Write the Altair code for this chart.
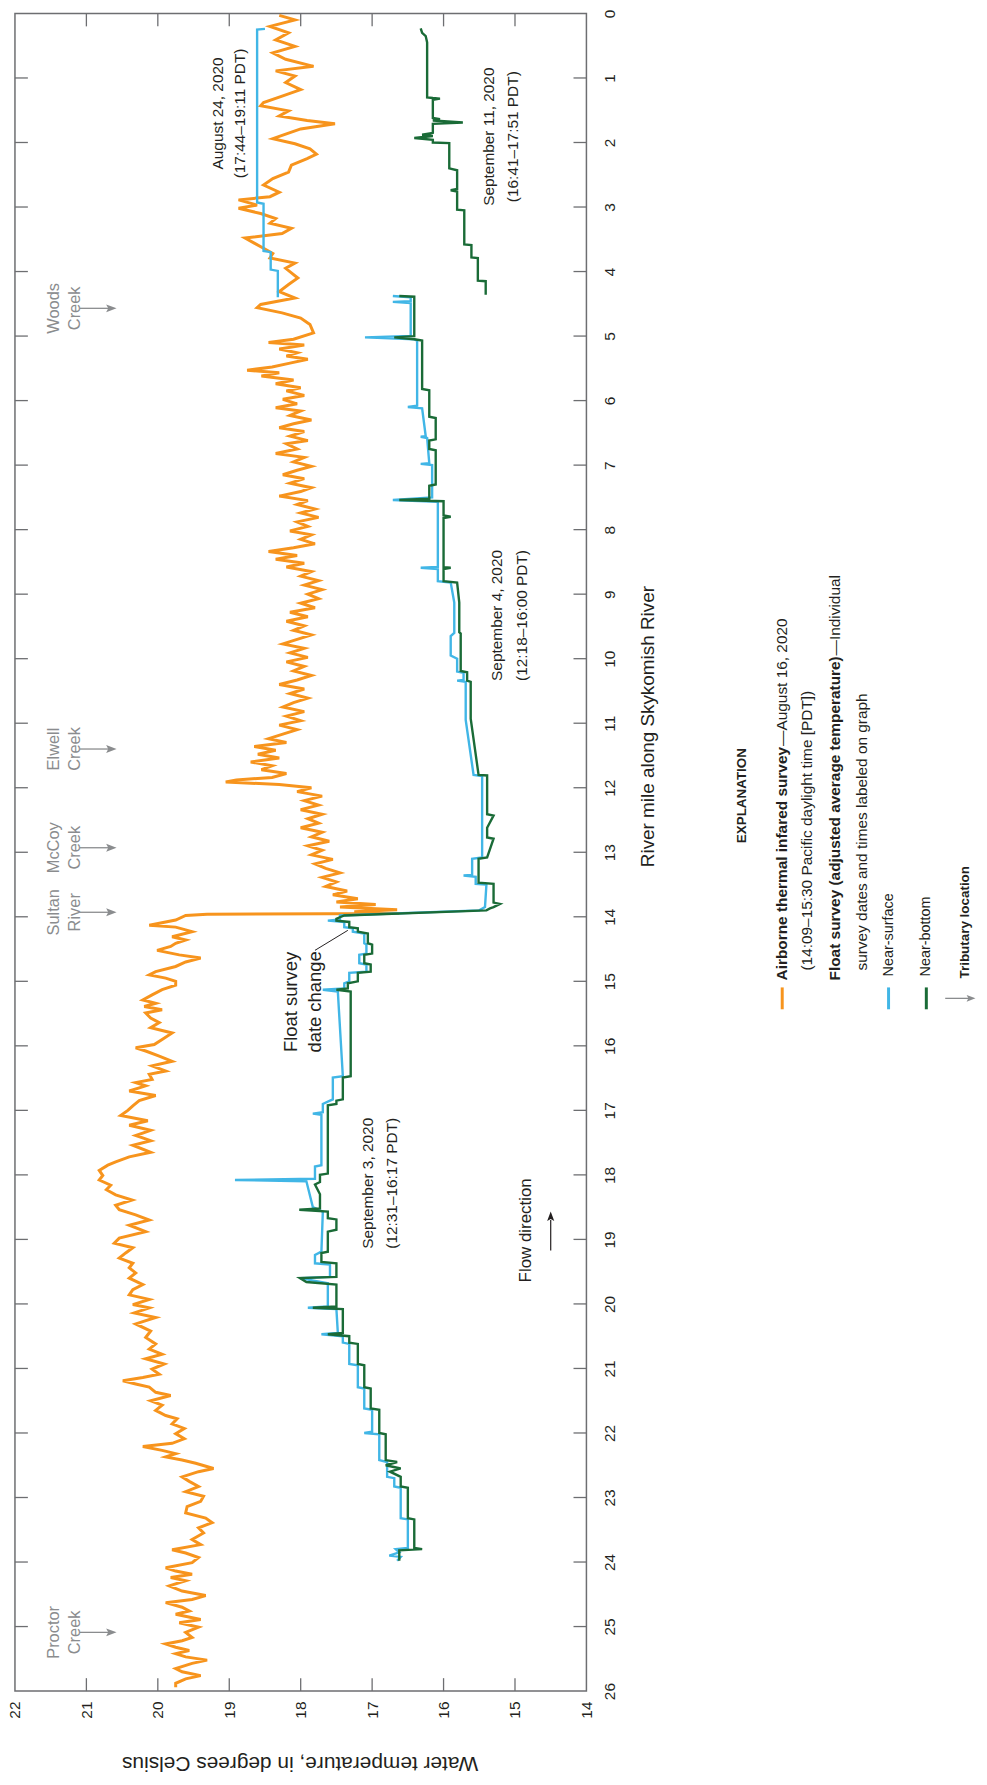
import altair as alt
import pandas as pd

FONT = "Liberation Sans, Arial, Helvetica, sans-serif"
BLACK = "#231f20"
GRAY = "#8a8c8e"
AXC = "#6d6e71"
ORANGE = "#f7941d"
BLUE = "#41b6e6"
GREEN = "#1a6b37"

W, H = 575, 1688

# ---------------- data ----------------
tir_mile = [0.03, 0.10, 0.20, 0.30, 0.41, 0.51, 0.61, 0.71, 0.82, 0.89, 0.97, 1.07, 1.18, 1.28, 1.38, 1.43,
            1.51, 1.59, 1.66, 1.71, 1.79, 1.87, 1.94, 2.02, 2.10, 2.18, 2.25, 2.35, 2.46, 2.56, 2.66, 2.77,
            2.84, 2.89, 2.97, 3.02, 3.10, 3.18, 3.25, 3.33, 3.41, 3.48, 3.56, 3.64, 3.72, 3.79, 3.87, 3.95,
            4.02, 4.10, 4.20, 4.31, 4.41, 4.51, 4.56, 4.64, 4.72, 4.82, 4.95,
            5.05, 5.10, 5.14, 5.20, 5.26, 5.31, 5.36, 5.42, 5.48, 5.53, 5.57, 5.62, 5.68, 5.74, 5.80, 5.85,
            5.92, 5.98, 6.05, 6.11, 6.16, 6.23, 6.30, 6.36, 6.42, 6.48, 6.55, 6.62, 6.67, 6.75, 6.82, 6.88,
            6.95, 7.02, 7.08, 7.15, 7.21, 7.28, 7.35, 7.41, 7.48, 7.55, 7.61, 7.68, 7.74, 7.81, 7.88, 7.95,
            8.02, 8.08, 8.15, 8.22, 8.28, 8.34, 8.40, 8.46, 8.52, 8.58, 8.65, 8.72, 8.79, 8.86, 8.93, 9.00,
            9.07, 9.14, 9.21, 9.28, 9.35, 9.42, 9.49, 9.56, 9.63, 9.70, 9.77, 9.84, 9.91, 9.98, 10.05, 10.12,
            10.19, 10.26, 10.33, 10.40, 10.47, 10.54, 10.61, 10.68, 10.75, 10.82, 10.89, 10.96, 11.03, 11.10,
            11.17, 11.24, 11.30, 11.36, 11.42, 11.48, 11.54, 11.60, 11.66, 11.72, 11.78, 11.84, 11.88, 11.91,
            11.95, 12.00, 12.06, 12.13, 12.20, 12.27, 12.34, 12.41, 12.48, 12.55, 12.62, 12.69, 12.76, 12.83,
            12.90, 12.97, 13.04, 13.11, 13.18, 13.25, 13.32, 13.39, 13.46, 13.53, 13.60, 13.66, 13.72, 13.77,
            13.81, 13.85, 13.89, 13.92, 13.95,
            13.96, 13.98, 14.05, 14.13, 14.16, 14.23, 14.31, 14.36, 14.41, 14.46, 14.52, 14.59, 14.64, 14.70,
            14.77, 14.85, 14.90, 14.95, 15.00, 15.06, 15.13, 15.21, 15.29, 15.34, 15.39, 15.44, 15.49, 15.57,
            15.64, 15.72, 15.80, 15.90, 15.98, 16.03, 16.08, 16.16, 16.24, 16.31, 16.39, 16.44, 16.52, 16.57,
            16.62, 16.70, 16.77, 16.85, 16.93, 17.00, 17.08, 17.16, 17.23, 17.31, 17.39, 17.47, 17.54, 17.65,
            17.72, 17.80, 17.85, 17.93, 18.01, 18.08, 18.16, 18.23, 18.31, 18.39, 18.47, 18.54, 18.62, 18.70,
            18.78, 18.88, 18.98, 19.06, 19.13, 19.21, 19.29, 19.37, 19.44, 19.52, 19.60, 19.70, 19.78, 19.86,
            19.93, 20.01, 20.06, 20.14, 20.21, 20.31, 20.42, 20.52, 20.62, 20.70, 20.78, 20.85, 20.93, 21.01,
            21.09, 21.14, 21.19, 21.24, 21.29, 21.37, 21.42, 21.50, 21.57, 21.65, 21.73, 21.78, 21.86, 21.93,
            22.01, 22.09, 22.16, 22.21, 22.27, 22.32, 22.37, 22.42, 22.47, 22.55, 22.60, 22.68, 22.75, 22.83,
            22.91, 22.98, 23.06, 23.14, 23.24, 23.32, 23.39, 23.47, 23.55, 23.65, 23.73, 23.81, 23.86, 23.93,
            24.01, 24.09, 24.14, 24.19, 24.24, 24.29, 24.37, 24.45, 24.52, 24.58, 24.63, 24.70, 24.76, 24.81,
            24.89, 24.94, 25.01, 25.09, 25.17, 25.22, 25.27, 25.32, 25.37, 25.42, 25.47, 25.52, 25.57, 25.65,
            25.70, 25.76, 25.81, 25.88, 25.94]
tir_temp = [18.30, 18.08, 18.43, 18.17, 18.35, 18.08, 18.39, 18.21, 17.82, 18.35, 18.08, 18.21, 18.00, 18.26, 18.52, 18.56,
            18.17, 18.30, 17.91, 17.52, 18.00, 18.21, 18.39, 18.08, 17.87, 17.78, 17.91, 18.13, 18.17, 18.39, 18.52, 18.30,
            18.43, 18.87, 18.61, 18.87, 18.56, 18.35, 18.43, 18.13, 18.26, 18.78, 18.65, 18.52, 18.39, 18.43, 18.08, 18.21,
            18.13, 18.04, 18.17, 18.30, 18.08, 18.56, 18.61, 18.26, 18.00, 17.87, 17.82,
            18.10, 18.45, 17.95, 18.30, 18.05, 18.20, 17.90, 18.15, 18.40, 18.75, 18.30, 18.55, 18.10, 18.35, 18.00, 18.20,
            17.95, 18.25, 18.05, 18.35, 18.00, 18.15, 17.85, 18.10, 18.30, 17.95, 18.15, 17.90, 18.20, 18.05, 18.35, 17.95,
            18.10, 17.85, 18.05, 18.25, 17.95, 18.15, 17.85, 18.00, 18.30, 17.90, 18.05, 17.80, 18.00, 17.75, 18.05, 17.90,
            18.15, 17.85, 18.00, 17.80, 18.10, 18.45, 18.05, 18.35, 17.95, 18.20, 17.85, 18.00, 17.75, 17.95, 17.70, 17.90,
            17.75, 18.00, 17.80, 18.15, 17.90, 18.20, 17.95, 18.10, 17.85, 18.05, 18.25, 17.95, 18.15, 17.90, 18.20, 17.95,
            18.10, 17.85, 18.05, 18.30, 17.95, 18.15, 17.90, 18.10, 18.25, 17.95, 18.20, 18.00, 18.30, 18.05,
            18.25, 18.45, 18.20, 18.65, 18.35, 18.60, 18.30, 18.70, 18.40, 18.55, 18.20, 18.40, 18.90, 19.05,
            18.30, 17.85, 18.05, 17.70, 17.95, 17.75, 18.00, 17.70, 17.90, 17.75, 18.00, 17.70, 17.85, 17.60,
            17.90, 17.70, 17.85, 17.55, 17.80, 17.65, 17.45, 17.70, 17.50, 17.65, 17.35, 17.55, 17.20, 17.50,
            16.95, 17.45, 16.65, 17.25, 16.62,
            19.31, 19.61, 19.75, 20.12, 19.75, 19.52, 19.80, 19.61, 19.75, 19.82, 20.01, 19.70, 19.40, 19.61,
            19.75, 20.03, 20.12, 19.89, 19.75, 19.75, 19.94, 20.08, 20.21, 20.03, 20.19, 19.94, 20.17, 20.10,
            19.98, 20.10, 19.80, 19.94, 20.05, 20.31, 20.17, 19.98, 19.80, 20.08, 19.89, 20.12, 20.08, 20.31,
            20.17, 20.40, 20.03, 20.26, 20.35, 20.42, 20.52, 20.14, 20.40, 20.10, 20.31, 20.10, 20.35, 20.10,
            20.40, 20.59, 20.70, 20.82, 20.77, 20.82, 20.66, 20.72, 20.59, 20.36, 20.59, 20.54, 20.31, 20.12,
            20.40, 20.17, 20.54, 20.61, 20.35, 20.45, 20.54, 20.35, 20.40, 20.31, 20.40, 20.21, 20.35, 20.40,
            20.12, 20.35, 20.12, 20.33, 20.03, 20.31, 20.10, 20.17, 20.03, 20.12, 19.94, 20.17, 19.91, 20.08,
            19.98, 20.21, 20.49, 20.31, 20.12, 20.03, 19.82, 20.10, 19.94, 20.03, 19.89, 19.73, 19.80, 19.63,
            19.75, 19.63, 19.80, 20.21, 19.94, 19.75, 19.89, 19.66, 19.47, 19.22, 19.43, 19.66, 19.56, 19.43,
            19.61, 19.36, 19.40, 19.59, 19.61, 19.33, 19.24, 19.43, 19.36, 19.52, 19.40, 19.80, 19.61, 19.43,
            19.52, 19.89, 19.75, 19.52, 19.82, 19.61, 19.84, 19.66, 19.33, 19.52, 19.89, 19.66, 19.56, 19.75,
            19.40, 19.70, 19.43, 19.61, 19.52, 19.66, 19.89, 19.75, 19.56, 19.75, 19.61, 19.31, 19.52, 19.75,
            19.66, 19.40, 19.61, 19.75, 19.75]

aug24_mile = [0.24, 0.25, 2.93, 2.95, 3.68, 3.70, 3.97, 3.99, 4.40]
aug24_temp = [18.50, 18.61, 18.61, 18.52, 18.52, 18.42, 18.42, 18.32, 18.32]

sep11_mile = [0.23, 0.30, 0.35, 0.45, 1.30, 1.31, 1.32, 1.34, 1.62, 1.64, 1.66, 1.69, 1.71, 1.85, 1.88, 1.90,
              1.93, 1.96, 2.00, 2.01, 2.40, 2.43, 2.72, 2.74, 2.76, 3.04, 3.05, 3.58, 3.59, 3.78, 3.79, 4.14,
              4.15, 4.36]
sep11_temp = [16.32, 16.30, 16.25, 16.23, 16.23, 16.15, 16.05, 16.15, 16.15, 16.05, 16.15, 15.73, 16.15, 16.15, 16.30, 16.15,
              16.41, 16.15, 16.15, 15.92, 15.92, 15.81, 15.81, 15.90, 15.81, 15.81, 15.71, 15.71, 15.61, 15.61, 15.52, 15.52,
              15.41, 15.41]

surf_mile = [4.38, 4.40, 4.46, 4.47, 4.49, 5.00, 5.02, 5.05, 5.07, 6.08, 6.10, 6.12, 6.55, 6.56, 6.58, 6.97,
             6.98, 7.00, 7.50, 7.54, 7.57, 8.58, 8.59, 8.61, 8.80, 8.82, 9.13, 9.60, 9.65, 9.95, 10.00, 10.20,
             10.22, 10.33, 10.34, 10.36, 10.95, 11.80, 11.82, 13.08, 13.10, 13.35, 13.36, 13.38, 13.49, 13.50,
             13.85, 13.90, 13.98, 14.04, 14.06, 14.08, 14.16, 14.18, 14.23, 14.26, 14.41, 14.43, 14.57, 14.59,
             14.72, 14.74, 14.85, 14.87, 15.00, 15.03, 15.11, 15.13, 15.16, 16.47, 16.49, 16.83, 16.85, 16.90,
             17.03, 17.05, 17.07, 17.85, 17.87, 18.06, 18.08, 18.10, 18.50, 18.57, 19.19, 19.24, 19.37, 19.39,
             19.58, 19.60, 19.68, 20.04, 20.06, 20.08, 20.45, 20.47, 20.50, 20.60, 20.62, 20.93, 20.95, 21.29,
             21.31, 21.62, 21.64, 21.98, 22.00, 22.02, 22.42, 22.45, 22.68, 22.70, 22.83, 22.85, 23.32, 23.34,
             23.78, 23.80, 23.85, 23.90, 23.92, 23.98]
surf_temp = [16.71, 16.46, 16.46, 16.71, 16.46, 16.46, 17.10, 16.41, 16.37, 16.37, 16.50, 16.30, 16.25, 16.32, 16.23, 16.20,
             16.32, 16.16, 16.16, 16.71, 16.08, 16.08, 16.32, 16.08, 16.08, 15.90, 15.85, 15.85, 15.90, 15.90, 15.81, 15.81,
             15.72, 15.72, 15.81, 15.69, 15.69, 15.58, 15.46, 15.46, 15.60, 15.60, 15.72, 15.55, 15.55, 15.40,
             15.42, 15.50, 17.45, 17.45, 17.62, 17.39, 17.39, 17.27, 17.27, 17.11, 17.11, 17.08, 17.08, 17.18,
             17.18, 17.08, 17.08, 17.32, 17.32, 17.39, 17.39, 17.69, 17.48, 17.41, 17.55, 17.55, 17.59, 17.69,
             17.69, 17.83, 17.71, 17.71, 17.80, 17.80, 18.92, 17.92, 17.83, 17.69, 17.71, 17.80, 17.80, 17.59,
             17.59, 18.01, 17.62, 17.62, 17.90, 17.50, 17.48, 17.71, 17.41, 17.41, 17.32, 17.32, 17.20, 17.20,
             17.11, 17.11, 17.00, 17.00, 17.11, 16.90, 16.90, 16.79, 16.79, 16.69, 16.69, 16.60, 16.60, 16.50,
             16.50, 16.67, 16.62, 16.76, 16.60, 16.65]

bot_mile = [4.38, 4.39, 5.00, 5.02, 5.05, 5.07, 5.82, 5.84, 6.25, 6.27, 6.60, 6.62, 6.75, 6.77, 7.30, 7.32,
            7.52, 7.54, 7.56, 7.78, 7.80, 7.82, 8.58, 8.59, 8.61, 8.80, 8.82, 9.13, 9.59, 9.61, 10.19, 10.21,
            10.34, 10.36, 10.93, 11.80, 11.81, 12.41, 12.43, 12.62, 12.77, 12.79, 13.08, 13.10, 13.47, 13.49,
            13.78, 13.80, 13.85, 13.87, 13.90, 13.98, 14.03, 14.06, 14.08, 14.16, 14.18, 14.23, 14.26, 14.41,
            14.43, 14.57, 14.59, 14.72, 14.74, 14.85, 14.87, 15.00, 15.03, 15.11, 15.13, 15.16, 16.47, 16.49,
            16.83, 16.85, 16.90, 16.92, 17.98, 18.00, 18.11, 18.15, 18.30, 18.52, 18.54, 18.57, 18.67, 18.69,
            18.85, 18.88, 19.19, 19.21, 19.35, 19.37, 19.58, 19.60, 19.66, 19.70, 20.04, 20.06, 20.08, 20.45,
            20.47, 20.50, 20.60, 20.62, 20.93, 20.95, 21.29, 21.31, 21.62, 21.64, 22.00, 22.02, 22.42, 22.45,
            22.50, 22.55, 22.60, 22.68, 22.83, 22.85, 23.32, 23.34, 23.78, 23.80, 23.82, 23.98]
bot_temp = [16.62, 16.41, 16.41, 16.69, 16.41, 16.30, 16.30, 16.20, 16.20, 16.11, 16.11, 16.20, 16.20, 16.11, 16.11, 16.20,
            16.20, 16.62, 16.00, 16.00, 15.90, 16.00, 16.00, 15.90, 16.00, 16.00, 15.81, 15.78, 15.78, 15.76, 15.76, 15.67,
            15.67, 15.62, 15.62, 15.51, 15.39, 15.39, 15.30, 15.39, 15.39, 15.30, 15.39, 15.51, 15.51, 15.30,
            15.30, 15.21, 15.30, 15.35, 15.40, 17.39, 17.50, 17.50, 17.32, 17.32, 17.20, 17.20, 17.06, 17.06,
            17.00, 17.00, 17.11, 17.11, 17.02, 17.02, 17.20, 17.20, 17.34, 17.34, 17.50, 17.30, 17.30, 17.41,
            17.41, 17.50, 17.50, 17.62, 17.62, 17.73, 17.73, 17.80, 17.73, 17.73, 18.02, 17.62, 17.62, 17.50,
            17.50, 17.62, 17.62, 17.71, 17.71, 17.50, 17.50, 18.01, 17.92, 17.50, 17.50, 17.83, 17.41, 17.41,
            17.62, 17.32, 17.32, 17.20, 17.20, 17.11, 17.11, 17.02, 17.02, 16.90, 16.90, 16.81, 16.81, 16.65,
            16.81, 16.60, 16.75, 16.60, 16.60, 16.50, 16.50, 16.41, 16.41, 16.30, 16.62, 16.62]

temp_ticks = [14, 15, 16, 17, 18, 19, 20, 21, 22]
mile_ticks = list(range(0, 27))

trib_names = [["Woods", "Creek"], ["Elwell", "Creek"], ["McCoy", "Creek"], ["Sultan", "River"], ["Proctor", "Creek"]]
trib_miles = [4.57, 11.40, 12.93, 13.93, 25.09]

# ---------------- scales / axes ----------------
xs = alt.Scale(domain=[14, 22], reverse=True, nice=False, zero=False)
ys = alt.Scale(domain=[0, 26], reverse=True, nice=False, zero=False)
xaxis = alt.Axis(orient="bottom", values=temp_ticks, format="d", labelAngle=270, labelAlign="right",
                 labelBaseline="middle", labelPadding=10, ticks=False, tickSize=0, domain=False, grid=False,
                 title=None, labelFont=FONT, labelFontSize=15.5, labelColor=BLACK, labelFlush=False,
                 labelOverlap=False)
yaxis = alt.Axis(orient="right", values=mile_ticks, format="d", labelAngle=270, labelAlign="center",
                 labelBaseline="top", labelPadding=16, ticks=False, tickSize=0, domain=False, grid=False,
                 title=None, labelFont=FONT, labelFontSize=15.5, labelColor=BLACK, labelFlush=False,
                 labelOverlap=False)
X = alt.X("temp:Q", scale=xs, axis=xaxis)
Y = alt.Y("mile:Q", scale=ys, axis=yaxis)
ONE = pd.DataFrame({"k": [0]})


def line_layer(miles, temps, color, width):
    df = pd.DataFrame({"mile": miles, "temp": temps, "i": list(range(len(miles)))})
    return alt.Chart(df).mark_line(color=color, strokeWidth=width, strokeJoin="miter").encode(
        x=X, y=Y, order=alt.Order("i:Q"))


def ptext(text, x, y, size, angle=270, align="left", baseline="middle", weight="normal",
          color=BLACK, font=FONT, lh=None):
    props = dict(font=font, fontSize=size, angle=angle, align=align, baseline=baseline,
                 fontWeight=weight, color=color)
    if lh:
        props["lineHeight"] = lh
    return alt.Chart(ONE).mark_text(**props).encode(x=alt.value(x), y=alt.value(y), text=alt.value(text))


def dtext(text, temp, mile, size, align="center", baseline="middle", color=BLACK, font=FONT, lh=None):
    df = pd.DataFrame({"temp": [temp], "mile": [mile]})
    props = dict(font=font, fontSize=size, angle=270, align=align, baseline=baseline, color=color)
    if lh:
        props["lineHeight"] = lh
    return alt.Chart(df).mark_text(**props).encode(x=X, y=Y, text=alt.value(text))


layers = []
# series
layers.append(line_layer(tir_mile, tir_temp, ORANGE, 3.0))
layers.append(line_layer(aug24_mile, aug24_temp, BLUE, 2.4))
layers.append(line_layer(surf_mile, surf_temp, BLUE, 2.4))
layers.append(line_layer(bot_mile, bot_temp, GREEN, 2.4))
layers.append(line_layer(sep11_mile, sep11_temp, GREEN, 2.4))

# inward ticks on all four sides
tdf = pd.DataFrame({"temp": temp_ticks[1:-1]})
mdf = pd.DataFrame({"mile": mile_ticks[1:-1]})
rule = dict(color=AXC, strokeWidth=1.3)
layers.append(alt.Chart(tdf).mark_rule(**rule).encode(x=X, y=alt.value(0), y2=alt.value(13)))
layers.append(alt.Chart(tdf).mark_rule(**rule).encode(x=X, y=alt.value(H - 13), y2=alt.value(H)))
layers.append(alt.Chart(mdf).mark_rule(**rule).encode(y=Y, x=alt.value(0), x2=alt.value(13)))
layers.append(alt.Chart(mdf).mark_rule(**rule).encode(y=Y, x=alt.value(W - 13), x2=alt.value(W)))

# tributaries
tribdf = pd.DataFrame({"mile": trib_miles})
layers.append(alt.Chart(tribdf).mark_rule(color=GRAY, strokeWidth=1.3).encode(
    y=Y, x=alt.value(65), x2=alt.value(96)))
ARROW_R = "M-1,-0.75L1,0L-1,0.75L-0.6,0Z"
ARROW_U = "M-0.75,1L0,-1L0.75,1L0,0.6Z"
layers.append(alt.Chart(tribdf).mark_point(shape=ARROW_R, size=110, filled=True, color=GRAY, opacity=1).encode(
    y=Y, x=alt.value(97)))
for name, m in zip(trib_names, trib_miles):
    df = pd.DataFrame({"mile": [m]})
    layers.append(alt.Chart(df).mark_text(font=FONT, fontSize=16.5, angle=270, align="center",
                                          baseline="middle", color=GRAY, lineHeight=21).encode(
        y=Y, x=alt.value(39), text=alt.value(name)))

# survey labels
layers.append(dtext(["August 24, 2020", "(17:44\u201319:11 PDT)"], 19.16, 1.55, 15.5, lh=22))
layers.append(dtext(["September 11, 2020", "(16:41\u201317:51 PDT)"], 15.37, 1.91, 15.5, lh=25))
layers.append(dtext(["September 4, 2020", "(12:18\u201316:00 PDT)"], 15.245, 9.33, 15.5, lh=25))
layers.append(dtext(["September 3, 2020", "(12:31\u201316:17 PDT)"], 17.06, 18.13, 15.5, lh=24))
layers.append(dtext(["Float survey", "date change"], 18.14, 15.32, 18.5, lh=25))
leader = pd.DataFrame({"temp": [17.80], "mile": [14.52], "temp2": [17.34], "mile2": [14.21]})
layers.append(alt.Chart(leader).mark_rule(color=BLACK, strokeWidth=1).encode(
    x=X, y=Y, x2=alt.X2("temp2:Q"), y2=alt.Y2("mile2:Q")))
layers.append(dtext("Flow direction", 14.85, 18.86, 17))
flow = pd.DataFrame({"temp": [14.50], "mile": [19.17], "mile2": [18.70]})
layers.append(alt.Chart(flow).mark_rule(color=BLACK, strokeWidth=1.2).encode(x=X, y=Y, y2=alt.Y2("mile2:Q")))
flowh = pd.DataFrame({"temp": [14.50], "mile": [18.64]})
layers.append(alt.Chart(flowh).mark_point(shape=ARROW_U, size=90, filled=True, color=BLACK, opacity=1).encode(
    x=X, y=Y))

# axis titles
layers.append(ptext("Water temperature, in degrees Celsius", 287, 1760, 21, angle=180, align="center"))
layers.append(ptext("River mile along Skykomish River", 637, 859, 19))

# explanation
LX = {"air": 772, "air2": 797, "flt": 825, "flt2": 852, "ns": 879, "nb": 917, "tr": 956}
S = 973
FS = 15.5
layers.append(ptext("EXPLANATION", 732, 787, 13.5, align="center", weight="bold"))
layers.append(alt.Chart(ONE).mark_rule(color=ORANGE, strokeWidth=3).encode(
    x=alt.value(LX["air"]), y=alt.value(S + 7), y2=alt.value(S + 29)))
layers.append(ptext("Airborne thermal infared survey", LX["air"], S, FS, weight="bold"))
layers.append(ptext("\u2014August 16, 2020", LX["air"], S - 236, FS))
layers.append(ptext("(14:09\u201315:30 Pacific daylight time [PDT])", LX["air2"], S - 10, FS))
layers.append(ptext("Float survey (adjusted average temperature)", LX["flt"], S, FS, weight="bold"))
layers.append(ptext("\u2014Individual", LX["flt"], S - 327, FS))
layers.append(ptext("survey dates and times labeled on graph", LX["flt2"], S - 10, FS))
layers.append(alt.Chart(ONE).mark_rule(color=BLUE, strokeWidth=3).encode(
    x=alt.value(LX["ns"]), y=alt.value(S + 7), y2=alt.value(S + 29)))
layers.append(ptext("Near-surface", LX["ns"], S - 4, 14.5))
layers.append(alt.Chart(ONE).mark_rule(color=GREEN, strokeWidth=3).encode(
    x=alt.value(LX["nb"]), y=alt.value(S + 7), y2=alt.value(S + 29)))
layers.append(ptext("Near-bottom", LX["nb"], S - 4, 14.5))
layers.append(alt.Chart(ONE).mark_rule(color=GRAY, strokeWidth=1.3).encode(
    x=alt.value(LX["tr"] - 20), x2=alt.value(LX["tr"] + 5), y=alt.value(S + 18)))
layers.append(alt.Chart(ONE).mark_point(shape=ARROW_R, size=80, filled=True, color=GRAY, opacity=1).encode(
    x=alt.value(LX["tr"] + 6), y=alt.value(S + 18)))
layers.append(ptext("Tributary location", LX["tr"], S - 2, 13.5, weight="bold"))

chart = alt.layer(*layers).properties(
    width=W, height=H,
    autosize=alt.AutoSizeParams(type="none"),
    padding={"left": 7, "top": 0, "right": 395, "bottom": 85},
    background="white",
).configure_view(stroke=AXC, strokeWidth=1.5)

chart.save("out.html", embed_options={"renderer": "svg", "actions": False})
